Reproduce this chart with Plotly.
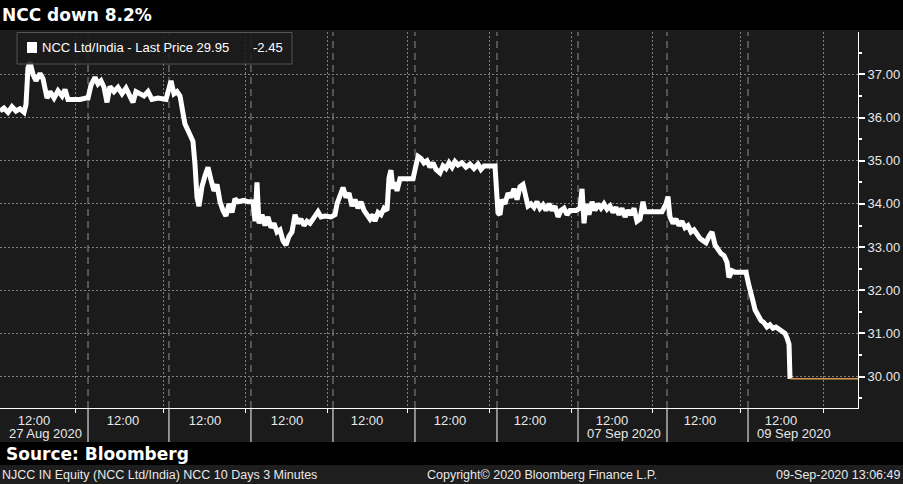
import plotly.graph_objects as go

# ---------------- data (x = trading time in standard sessions since 27 Aug open) ----------------
times = [
    0.0, 0.048, 0.097, 0.145, 0.194, 0.242, 0.291, 0.315, 0.339, 0.364, 0.4, 0.436, 0.485, 0.521,
    0.570, 0.606, 0.655, 0.703, 0.752, 0.788, 0.824, 0.970, 1.042,
    1.067, 1.103, 1.152, 1.188, 1.224, 1.261, 1.297, 1.333, 1.382, 1.430, 1.479, 1.527, 1.576,
    1.612, 1.648, 1.697, 1.745, 1.794, 1.842, 1.915, 2.012,
    2.073, 2.109, 2.145, 2.182, 2.218, 2.242, 2.279, 2.315, 2.339, 2.364, 2.388, 2.412, 2.448,
    2.485, 2.521, 2.558, 2.594, 2.630, 2.667, 2.703, 2.739, 2.776, 2.812, 2.848, 2.885, 2.958, 3.006,
    3.067, 3.091, 3.115, 3.139, 3.176, 3.212, 3.248, 3.285, 3.321, 3.358, 3.394, 3.430, 3.467,
    3.503, 3.539, 3.576, 3.612, 3.648, 3.685, 3.721, 3.758, 3.806, 3.855, 3.891, 3.939, 4.012,
    4.061, 4.085, 4.121, 4.158, 4.194, 4.230, 4.267, 4.303, 4.339, 4.376, 4.412, 4.448, 4.485,
    4.521, 4.545, 4.582, 4.618, 4.655, 4.691, 4.715, 4.739, 4.764, 4.788, 4.812, 4.848, 5.006,
    5.042, 5.067, 5.103, 5.139, 5.176, 5.212, 5.248, 5.285, 5.333, 5.370, 5.406, 5.442, 5.479,
    5.515, 5.552, 5.600, 5.648, 5.697, 5.745, 5.794, 5.830, 5.867, 6.0,
    6.036, 6.061, 6.085, 6.121, 6.158, 6.194, 6.230, 6.267, 6.303, 6.339, 6.376, 6.4, 6.436,
    6.473, 6.509, 6.545, 6.582, 6.618, 6.655, 6.691, 6.727, 6.764, 6.8, 6.836, 6.873, 6.909, 6.982,
    7.030, 7.055, 7.079, 7.103, 7.139, 7.176, 7.212, 7.248, 7.285, 7.321, 7.358, 7.394, 7.430,
    7.467, 7.503, 7.539, 7.576, 7.612, 7.648, 7.685, 7.721, 7.758, 7.794, 7.818, 8.024, 8.073,
    8.097, 8.121, 8.158, 8.194, 8.230, 8.267, 8.303, 8.339, 8.376, 8.412, 8.448, 8.485, 8.521,
    8.558, 8.594, 8.630, 8.667, 8.703, 8.739, 8.776, 8.812, 8.836, 8.873, 8.909, 9.042,
    9.079, 9.103, 9.127, 9.152, 9.188, 9.224, 9.261, 9.297, 9.333, 9.370, 9.406, 9.442, 9.479,
    9.515, 9.539, 9.564, 9.576,
]
prices = [
    36.15, 36.22, 36.12, 36.25, 36.15, 36.20, 36.12, 36.30, 37.15, 37.28, 37.00, 36.85, 37.02, 36.90,
    36.45, 36.60, 36.45, 36.62, 36.50, 36.65, 36.42, 36.42, 36.45,
    36.45, 36.75, 36.93, 36.78, 36.85, 36.70, 36.35, 36.72, 36.60, 36.70, 36.55, 36.68, 36.50,
    36.35, 36.60, 36.55, 36.50, 36.60, 36.42, 36.45, 36.42,
    36.85, 36.55, 36.60, 36.50, 36.10, 35.85, 35.70, 35.55, 35.45, 34.90, 34.15, 33.95, 34.40,
    34.65, 34.85, 34.55, 34.30, 34.45, 34.05, 33.85, 33.72, 34.00, 33.80, 34.12, 34.05, 34.08, 34.05,
    34.05, 33.60, 34.50, 33.55, 33.75, 33.50, 33.70, 33.45, 33.55, 33.35, 33.40, 33.15, 33.05,
    33.25, 33.35, 33.75, 33.55, 33.65, 33.50, 33.60, 33.55, 33.70, 33.82, 33.70, 33.72, 33.70,
    33.75, 34.00, 34.20, 34.38, 34.15, 34.25, 33.95, 34.10, 33.90, 34.05, 33.85, 33.75, 33.65,
    33.75, 33.60, 33.80, 33.75, 33.90, 33.85, 34.60, 34.78, 34.35, 34.50, 34.30, 34.58, 34.58,
    34.85, 35.10, 35.05, 34.95, 35.00, 34.85, 34.95, 34.80, 34.72, 34.88, 34.82, 34.95, 34.85,
    34.98, 34.90, 34.95, 34.85, 34.92, 34.82, 34.92, 34.80, 34.88, 34.88,
    33.80, 33.75, 34.10, 34.00, 34.25, 34.15, 34.35, 34.10, 34.40, 34.45, 34.15, 33.95, 34.00,
    33.92, 34.05, 33.90, 33.98, 33.85, 34.00, 33.85, 33.95, 33.70, 33.85, 33.90, 33.75, 33.85, 33.85,
    33.90, 34.35, 33.55, 34.00, 33.75, 34.05, 33.85, 34.00, 33.90, 34.00, 33.88, 33.95, 33.80,
    33.92, 33.75, 33.90, 33.70, 33.85, 33.75, 33.90, 33.60, 33.65, 34.05, 33.82, 33.82, 34.00,
    34.17, 33.70, 33.55, 33.65, 33.50, 33.60, 33.45, 33.50, 33.35, 33.40, 33.28, 33.20, 33.15,
    33.10, 33.25, 33.35, 33.05, 32.95, 32.85, 32.80, 32.65, 32.30, 32.45, 32.42, 32.42,
    32.10, 31.85, 31.75, 31.55, 31.45, 31.30, 31.25, 31.15, 31.20, 31.12, 31.15, 31.10, 31.05,
    31.00, 30.90, 30.75, 29.95,
]
last_price = 29.95
change = -2.45

# axis landmarks (same time units)
day_bounds = [1.067, 2.048, 3.042, 4.036, 5.030, 6.024, 7.006, 8.085, 9.067]
noon_ticks = [0.921, 1.976, 2.970, 3.964, 4.945, 5.939, 6.933, 7.915, 8.970, 9.976]
label_pos = [0.412, 1.491, 2.485, 3.479, 4.448, 5.455, 6.424, 7.418, 8.485, 9.467]
label_text = ["12:00"] * 10
date_pos = [0.085, 7.091, 9.152]
date_text = ["27 Aug 2020", "07 Sep 2020", "09 Sep 2020"]
x_end = 10.4
y_ticks = [30, 31, 32, 33, 34, 35, 36, 37]

PANEL = "#1b1b1b"
GRID = "#808080"
TXT = "#e8e8e8"
F = "Liberation Sans"

fig = go.Figure()
fig.add_trace(go.Scatter(x=times, y=prices, mode="lines",
                         line=dict(color="white", width=5), hoverinfo="skip"))
fig.add_trace(go.Scatter(x=[times[-1], x_end], y=[last_price, last_price], mode="lines",
                         line=dict(color="#d99a4e", width=1.5), hoverinfo="skip"))

shapes = []
def py(p):  # pixel row -> paper y (plot area rows 32..408)
    return (408 - p) / 376.0

shapes.append(dict(type="rect", xref="paper", yref="paper", x0=-0.02, x1=1.08,
                   y0=py(30), y1=py(-5), fillcolor="black", line=dict(width=0), layer="below"))
shapes.append(dict(type="rect", xref="paper", yref="paper", x0=-0.02, x1=1.08,
                   y0=py(465), y1=py(442), fillcolor="black", line=dict(width=0), layer="below"))
shapes.append(dict(type="rect", xref="paper", yref="paper", x0=-0.02, x1=1.08,
                   y0=py(490), y1=py(465), fillcolor="#1e1e1e", line=dict(width=0), layer="below"))
for b in day_bounds:
    shapes.append(dict(type="line", xref="x", yref="paper", x0=b, x1=b, y0=0, y1=1,
                       line=dict(color="#8f8f8f", width=1, dash="7px,5px"), layer="below"))
    shapes.append(dict(type="line", xref="x", yref="paper", x0=b, x1=b, y0=0, y1=py(442),
                       line=dict(color="white", width=1)))
# legend box
shapes.append(dict(type="rect", xref="paper", yref="paper", x0=17/858, x1=292/858,
                   y0=py(64), y1=py(32.5), fillcolor="rgba(27,27,27,0.85)",
                   line=dict(color="#555555", width=1), layer="above"))
shapes.append(dict(type="rect", xref="paper", yref="paper", x0=27/858, x1=37/858,
                   y0=py(53), y1=py(42), fillcolor="white", line=dict(width=0), layer="above"))

annotations = [
    dict(text="<b>NCC down 8.2%</b>", xref="paper", yref="paper", x=0.0, y=py(15),
         xanchor="left", yanchor="middle", showarrow=False,
         font=dict(family="DejaVu Sans", size=17, color="white")),
    dict(text="<b>Source: Bloomberg</b>", xref="paper", yref="paper", x=4/858, y=py(454),
         xanchor="left", yanchor="middle", showarrow=False,
         font=dict(family="DejaVu Sans", size=17, color="white")),
    dict(text="NJCC IN Equity (NCC Ltd/India) NCC 10 Days 3 Minutes", xref="paper", yref="paper",
         x=0.0, y=py(475), xanchor="left", yanchor="middle", showarrow=False,
         font=dict(family=F, size=12.5, color=TXT)),
    dict(text="Copyright© 2020 Bloomberg Finance L.P.", xref="paper", yref="paper",
         x=425/858, y=py(475), xanchor="left", yanchor="middle", showarrow=False,
         font=dict(family=F, size=12.5, color=TXT)),
    dict(text="09-Sep-2020 13:06:49", xref="paper", yref="paper",
         x=902/858, y=py(475), xanchor="right", yanchor="middle", showarrow=False,
         font=dict(family=F, size=12.5, color=TXT)),
    dict(text=f"NCC Ltd/India - Last Price {last_price:.2f}", xref="paper", yref="paper",
         x=40/858, y=py(48), xanchor="left", yanchor="middle", showarrow=False,
         font=dict(family=F, size=13, color="white")),
    dict(text=f"{change:.2f}", xref="paper", yref="paper",
         x=251/858, y=py(48), xanchor="left", yanchor="middle", showarrow=False,
         font=dict(family=F, size=13, color="white")),
]
for dp, dt in zip(date_pos, date_text):
    annotations.append(dict(text=dt, xref="x", yref="paper", x=dp, y=py(434),
                            xanchor="left", yanchor="middle", showarrow=False,
                            font=dict(family=F, size=13, color=TXT)))

fig.update_layout(
    width=903, height=484,
    margin=dict(l=0, r=45, t=32, b=76, pad=0),
    paper_bgcolor=PANEL, plot_bgcolor=PANEL,
    showlegend=False,
    shapes=shapes, annotations=annotations,
    xaxis=dict(range=[0, x_end], showgrid=False, zeroline=False,
               tickmode="array", tickvals=label_pos, ticktext=label_text, ticks="",
               tickfont=dict(family=F, size=13, color=TXT),
               showline=True, linecolor="white", linewidth=1,
               minor=dict(tickmode="array", tickvals=noon_ticks, ticks="outside", ticklen=4,
                          tickcolor="white", showgrid=True, gridcolor=GRID, gridwidth=1,
                          griddash="2px,2px")),
    yaxis=dict(range=[29.275, 37.98], side="right", tickmode="array", tickvals=y_ticks,
               ticktext=[f"{v:.2f}" for v in y_ticks], ticks="outside", ticklen=6, tickwidth=2,
               tickcolor="white", tickfont=dict(family=F, size=13, color=TXT),
               showgrid=True, gridcolor=GRID, gridwidth=1, griddash="2px,2px", zeroline=False,
               showline=True, linecolor="white", linewidth=1,
               minor=dict(dtick=0.5, tick0=29.5, ticks="outside", ticklen=3, tickcolor="white",
                          showgrid=False)),
)

fig.write_html("out.html", config={"displayModeBar": False, "staticPlot": True},
               post_script="document.body.style.margin='0';document.body.style.overflow='hidden';")
